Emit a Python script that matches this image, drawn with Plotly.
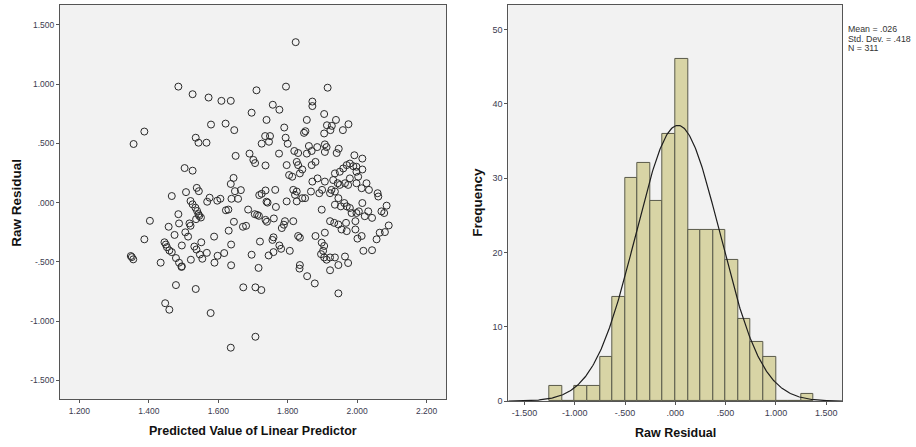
import numpy as np
import plotly.graph_objects as go

# ---------------- data ----------------
# Scatter: predicted value (x) vs raw residual (y)
pred_value = [
    1.823, 1.485, 1.710, 1.795, 1.915, 1.526, 1.572, 1.609, 1.636, 1.757, 1.776, 1.871, 1.871,
    1.696, 1.739, 1.855, 1.905, 1.939, 1.579, 1.621, 1.975, 1.387, 1.356, 1.646, 1.535, 1.543,
    1.566, 1.735, 1.749, 1.746, 1.725, 1.790, 1.794, 1.847, 1.851, 1.923, 1.927, 1.913, 1.905,
    1.959,
    1.650, 1.690, 1.775, 1.736, 1.701, 1.706, 1.503, 1.526, 1.644, 1.636, 1.538, 1.544, 1.507,
    1.648, 1.665, 1.736, 1.764, 1.725, 1.718, 1.466, 1.575, 1.606, 1.597, 1.568, 1.638, 1.657,
    1.739, 1.742, 1.766, 1.686, 1.629, 1.622, 1.520, 1.526, 1.534, 1.539, 1.543, 1.545, 1.550,
    1.536, 1.485, 1.487, 1.403, 1.457, 1.517, 1.520, 1.505, 1.513, 1.474, 1.387, 1.495, 1.445,
    1.449, 1.452, 1.459, 1.466, 1.478, 1.487, 1.495, 1.434, 1.521, 1.531, 1.537, 1.547, 1.551,
    1.554, 1.567, 1.588, 1.589, 1.598, 1.617, 1.630, 1.637, 1.637, 1.645, 1.671, 1.680, 1.696,
    1.720, 1.705, 1.712, 1.717, 1.736, 1.740, 1.760, 1.756, 1.759, 1.745, 1.759, 1.776, 1.781,
    1.783, 1.789, 1.351, 1.355, 1.348,
    1.716, 1.834, 1.856, 1.878, 1.922, 1.946, 1.478, 1.535, 1.447, 1.459, 1.578, 1.672, 1.707,
    1.724, 1.707, 1.636, 1.494,
    1.800, 1.819, 1.830, 1.855, 1.861, 1.869, 1.885, 1.907, 1.912, 1.907, 1.941, 1.947, 1.992,
    2.015, 1.797, 1.804, 1.813, 1.826, 1.830, 1.842, 1.835, 1.869, 1.880, 1.936, 1.950, 1.960,
    1.970, 1.979, 1.989, 1.998, 1.998, 2.015, 2.003, 1.816, 1.826, 1.821, 1.842, 1.867, 1.871,
    1.886, 1.907, 1.891, 1.899, 1.922, 1.926, 1.936, 1.931, 1.944, 1.950, 1.965, 1.974, 1.979,
    1.998, 2.013, 2.027, 2.034, 2.059, 2.061, 1.797, 1.826, 1.850, 1.898, 1.946, 1.963, 1.970,
    1.979, 1.984, 1.998, 2.005, 2.015, 2.022, 2.032, 2.043, 2.070, 2.078, 2.085, 1.936, 1.953,
    1.792, 1.816, 1.830, 1.835, 1.880, 1.907, 1.922, 1.934, 1.946, 1.955, 1.968, 1.970, 1.995,
    1.995, 2.001, 2.013, 2.056, 2.065, 2.080, 2.091, 1.806, 1.898, 1.905, 1.902, 1.896, 1.905,
    1.912, 1.922, 1.936, 1.965, 1.974, 2.018, 2.043, 1.835, 1.946,
]
raw_residual = [
    1.354, 0.979, 0.948, 0.979, 0.970, 0.915, 0.887, 0.859, 0.859, 0.826, 0.784, 0.853, 0.815,
    0.759, 0.698, 0.698, 0.748, 0.698, 0.659, 0.667, 0.662, 0.600, 0.495, 0.612, 0.548, 0.506,
    0.506, 0.562, 0.562, 0.514, 0.498, 0.634, 0.548, 0.589, 0.603, 0.612, 0.648, 0.653, 0.584,
    0.612,
    0.395, 0.414, 0.414, 0.314, 0.361, 0.334, 0.292, 0.270, 0.209, 0.158, 0.125, 0.097, 0.089,
    0.097, 0.106, 0.103, 0.108, 0.075, 0.064, 0.056, 0.042, 0.033, 0.017, 0.008, 0.033, 0.033,
    0.008, 0.000, -0.036, -0.058, -0.058, -0.064, 0.014, -0.014, -0.042, -0.070, -0.097, -0.111,
    -0.125, -0.139, -0.097, -0.175, -0.153, -0.203, -0.175, -0.195, -0.250, -0.286, -0.272,
    -0.309, -0.361, -0.334, -0.353, -0.375, -0.403, -0.417, -0.467, -0.506, -0.537, -0.506,
    -0.481, -0.370, -0.395, -0.437, -0.334, -0.473, -0.423, -0.286, -0.506, -0.448, -0.425,
    -0.236, -0.353, -0.528, -0.161, -0.203, -0.195, -0.439, -0.328, -0.097, -0.103, -0.111,
    -0.145, -0.161, -0.133, -0.314, -0.292, -0.445, -0.417, -0.361, -0.389, -0.214, -0.186,
    -0.459, -0.478, -0.450,
    -0.550, -0.556, -0.620, -0.681, -0.570, -0.765, -0.695, -0.728, -0.848, -0.903, -0.931,
    -0.714, -0.714, -0.737, -1.131, -1.223, -0.542,
    0.497, 0.436, 0.419, 0.414, 0.478, 0.436, 0.469, 0.492, 0.469, 0.428, 0.419, 0.455, 0.400,
    0.372, 0.317, 0.233, 0.219, 0.344, 0.317, 0.280, 0.247, 0.317, 0.344, 0.247, 0.261, 0.289,
    0.317, 0.330, 0.308, 0.303, 0.261, 0.280, 0.219, 0.108, 0.094, 0.066, 0.038, 0.094, 0.178,
    0.205, 0.178, 0.080, 0.108, 0.080, 0.108, 0.094, 0.191, 0.164, 0.150, 0.164, 0.150, 0.205,
    0.164, 0.122, 0.164, 0.108, 0.080, 0.052, 0.011, 0.011, 0.038, -0.059, 0.038, -0.003, -0.031,
    -0.045, -0.087, -0.087, -0.073, -0.003, -0.114, -0.073, -0.128, -0.073, -0.087, -0.025,
    -0.017, -0.031,
    -0.156, -0.156, -0.281, -0.295, -0.281, -0.253, -0.156, -0.170, -0.184, -0.226, -0.170,
    -0.240, -0.156, -0.226, -0.303, -0.281, -0.309, -0.253, -0.248, -0.192, -0.406, -0.337,
    -0.365, -0.406, -0.434, -0.462, -0.481, -0.462, -0.462, -0.454, -0.509, -0.406, -0.401,
    -0.526, -0.526,
]

# Histogram of raw residuals (bin lower edges, width .125)
hist_bin_lower = [-1.25, -1.125, -1.0, -0.875, -0.75, -0.625, -0.5, -0.375, -0.25, -0.125,
                  0.0, 0.125, 0.25, 0.375, 0.5, 0.625, 0.75, 0.875, 1.0, 1.125, 1.25]
hist_counts = [2, 0, 2, 2, 6, 14, 30, 32, 27, 36, 46, 23, 23, 23, 19, 11, 8, 6, 0, 0, 1]
bin_width = 0.125
stat_mean = 0.026
stat_sd = 0.418
stat_n = 311

scatter_x_ticks = [1.2, 1.4, 1.6, 1.8, 2.0, 2.2]
scatter_x_labels = ["1.200", "1.400", "1.600", "1.800", "2.000", "2.200"]
scatter_y_ticks = [-1.5, -1.0, -0.5, 0.0, 0.5, 1.0, 1.5]
scatter_y_labels = ["-1.500", "-1.000", "-.500", ".000", ".500", "1.000", "1.500"]
hist_x_ticks = [-1.5, -1.0, -0.5, 0.0, 0.5, 1.0, 1.5]
hist_x_labels = ["-1.500", "-1.000", "-.500", ".000", ".500", "1.000", "1.500"]
hist_y_ticks = [0, 10, 20, 30, 40, 50]

# ---------------- layout helpers ----------------
W, H = 916, 447
def px(x):
    return x / W
def py(y):
    return 1 - y / H

FONT = "Liberation Sans, Arial, sans-serif"
TICK_COLOR = "#3b3b4f"
BG = "#f2f2f2"

fig = go.Figure()

fig.add_trace(go.Scatter(
    x=pred_value, y=raw_residual, mode="markers",
    marker=dict(symbol="circle-open", size=7, color="#2a2a2a", line=dict(width=1)),
    xaxis="x", yaxis="y", showlegend=False, hoverinfo="x+y",
))

bar_centers = [b + bin_width / 2 for b in hist_bin_lower]
fig.add_trace(go.Bar(
    x=bar_centers, y=hist_counts, width=bin_width,
    marker=dict(color="#d8d4a5", line=dict(color="#5a5a4a", width=1)),
    xaxis="x2", yaxis="y2", showlegend=False,
))

cx = np.linspace(-1.66, 1.66, 400)
cy = stat_n * bin_width * np.exp(-0.5 * ((cx - stat_mean) / stat_sd) ** 2) / (stat_sd * np.sqrt(2 * np.pi))
fig.add_trace(go.Scatter(
    x=cx, y=cy, mode="lines", line=dict(color="#1e1e1e", width=1.2),
    xaxis="x2", yaxis="y2", showlegend=False, hoverinfo="skip",
))

axis_common = dict(
    showgrid=False, zeroline=False, showline=True, mirror=True,
    linecolor="#555555", linewidth=1, ticks="outside", ticklen=3,
    tickcolor="#555555", tickmode="array",
)

fig.update_layout(
    width=W, height=H,
    margin=dict(l=0, r=0, t=0, b=0),
    paper_bgcolor="white", plot_bgcolor=BG,
    font=dict(family=FONT, color=TICK_COLOR),
    bargap=0,
    xaxis=dict(domain=[px(60), px(446)], range=[1.144, 2.256], anchor="y",
               tickvals=scatter_x_ticks, ticktext=scatter_x_labels,
               tickfont=dict(size=8.5, color=TICK_COLOR), **axis_common),
    yaxis=dict(domain=[py(404), py(5)], range=[-1.66, 1.668], anchor="x",
               tickvals=scatter_y_ticks, ticktext=scatter_y_labels,
               tickfont=dict(size=8.5, color=TICK_COLOR), **axis_common),
    xaxis2=dict(domain=[px(508.3), px(842.3)], range=[-1.66, 1.66], anchor="y2",
                tickvals=hist_x_ticks, ticktext=hist_x_labels,
                tickfont=dict(size=9, color=TICK_COLOR), **axis_common),
    yaxis2=dict(domain=[py(405.7), py(5)], range=[0, 53.3], anchor="x2",
                tickvals=hist_y_ticks, ticktext=[str(v) for v in hist_y_ticks],
                tickfont=dict(size=9, color=TICK_COLOR), **axis_common),
)

title_font_h = dict(family=FONT, size=12.5, color="#111111")
title_font_v = dict(family=FONT, size=13.5, color="#111111")
annotations = [
    dict(text="<b>Predicted Value of Linear Predictor</b>", x=px(253), y=py(436),
         xref="paper", yref="paper", showarrow=False, font=title_font_h,
         xanchor="center", yanchor="middle"),
    dict(text="<b>Raw Residual</b>", x=px(17), y=py(205), textangle=-90,
         xref="paper", yref="paper", showarrow=False, font=title_font_v,
         xanchor="center", yanchor="middle"),
    dict(text="<b>Raw Residual</b>", x=px(675), y=py(438),
         xref="paper", yref="paper", showarrow=False, font=title_font_h,
         xanchor="center", yanchor="middle"),
    dict(text="<b>Frequency</b>", x=px(478), y=py(205), textangle=-90,
         xref="paper", yref="paper", showarrow=False, font=title_font_v,
         xanchor="center", yanchor="middle"),
]
stat_lines = ["Mean = .026", "Std. Dev. = .418", "N = 311"]
for i, t in enumerate(stat_lines):
    annotations.append(dict(text=t, x=px(846), y=py(29 + 10 * i), xref="paper", yref="paper",
                            showarrow=False, xanchor="left", yanchor="middle",
                            font=dict(family=FONT, size=8.8, color="#333333")))
fig.update_layout(annotations=annotations)

fig.write_html("out.html")
